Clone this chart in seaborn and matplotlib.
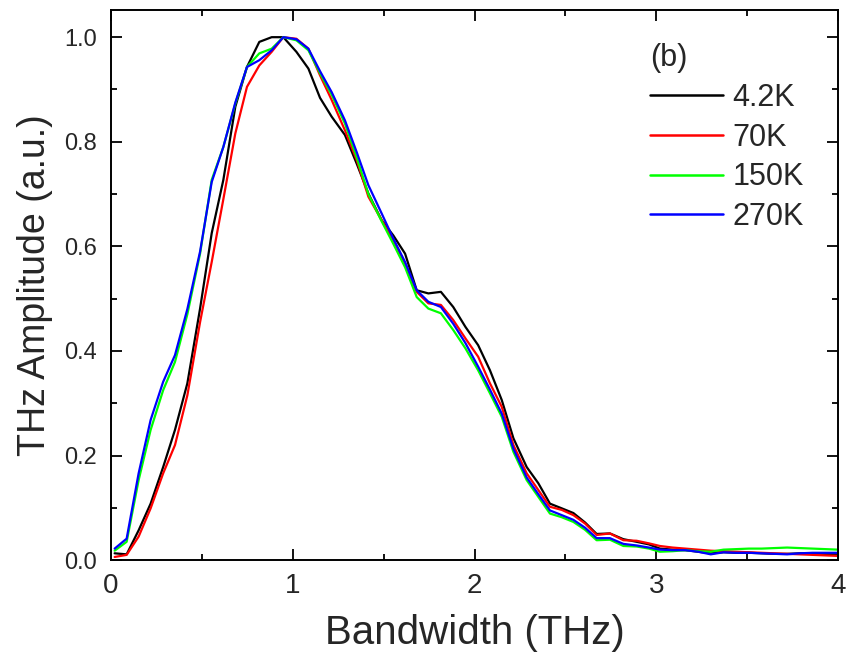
import numpy as np
import pandas as pd
import matplotlib
matplotlib.use("Agg")
import matplotlib.pyplot as plt
import seaborn as sns

freq = [0.02, 0.086, 0.152, 0.218, 0.287, 0.352, 0.42, 0.49, 0.554, 0.618,
        0.684, 0.748, 0.816, 0.884, 0.948, 1.02, 1.086, 1.15, 1.214, 1.287,
        1.352, 1.416, 1.489, 1.553, 1.618, 1.682, 1.746, 1.815, 1.883, 1.95,
        2.02, 2.085, 2.15, 2.214, 2.287, 2.351, 2.415, 2.48, 2.544, 2.608,
        2.672, 2.745, 2.819, 2.892, 2.96, 3.02, 3.09, 3.16, 3.23, 3.3,
        3.37, 3.44, 3.51, 3.58, 3.65, 3.72, 3.79, 3.86, 3.93, 4.0]

amp_4K = [0.013, 0.011, 0.057, 0.108, 0.178, 0.249, 0.338, 0.481, 0.625, 0.727,
          0.867, 0.943, 0.991, 1.0, 1.0, 0.972, 0.940, 0.884, 0.848, 0.813,
          0.758, 0.701, 0.650, 0.621, 0.586, 0.516, 0.510, 0.513, 0.484, 0.446,
          0.411, 0.363, 0.306, 0.233, 0.178, 0.147, 0.108, 0.099, 0.090, 0.072,
          0.050, 0.051, 0.040, 0.035, 0.030, 0.022, 0.020, 0.019, 0.016, 0.013,
          0.015, 0.014, 0.014, 0.013, 0.012, 0.012, 0.013, 0.013, 0.012, 0.012]

amp_70K = [0.006, 0.010, 0.045, 0.099, 0.166, 0.220, 0.315, 0.455, 0.570, 0.690,
           0.816, 0.905, 0.946, 0.972, 1.0, 0.997, 0.978, 0.927, 0.880, 0.822,
           0.765, 0.695, 0.650, 0.612, 0.567, 0.513, 0.491, 0.488, 0.459, 0.424,
           0.389, 0.338, 0.293, 0.220, 0.166, 0.134, 0.102, 0.096, 0.086, 0.070,
           0.048, 0.051, 0.038, 0.037, 0.032, 0.027, 0.024, 0.022, 0.020, 0.018,
           0.017, 0.016, 0.015, 0.014, 0.013, 0.012, 0.011, 0.010, 0.009, 0.008]

amp_150K = [0.018, 0.035, 0.153, 0.249, 0.325, 0.379, 0.470, 0.586, 0.727, 0.790,
            0.873, 0.943, 0.969, 0.978, 1.0, 0.994, 0.975, 0.931, 0.890, 0.835,
            0.770, 0.700, 0.648, 0.605, 0.560, 0.503, 0.481, 0.472, 0.440, 0.405,
            0.363, 0.319, 0.274, 0.207, 0.153, 0.121, 0.089, 0.082, 0.073, 0.058,
            0.038, 0.039, 0.027, 0.026, 0.022, 0.016, 0.017, 0.019, 0.017, 0.016,
            0.020, 0.021, 0.022, 0.022, 0.023, 0.024, 0.023, 0.022, 0.021, 0.020]

amp_270K = [0.022, 0.041, 0.166, 0.268, 0.341, 0.392, 0.480, 0.590, 0.723, 0.790,
            0.875, 0.943, 0.956, 0.975, 1.0, 0.996, 0.978, 0.935, 0.895, 0.841,
            0.780, 0.717, 0.663, 0.615, 0.570, 0.516, 0.494, 0.484, 0.452, 0.415,
            0.370, 0.326, 0.280, 0.213, 0.158, 0.126, 0.095, 0.086, 0.077, 0.062,
            0.042, 0.042, 0.031, 0.028, 0.024, 0.020, 0.019, 0.019, 0.016, 0.011,
            0.015, 0.014, 0.014, 0.013, 0.012, 0.011, 0.013, 0.014, 0.014, 0.014]

labels = ["4.2K", "70K", "150K", "270K"]
colors = ["#000000", "#ff0000", "#00ff00", "#0000ff"]
x_ticks = [0, 1, 2, 3, 4]
y_ticks = [0.0, 0.2, 0.4, 0.6, 0.8, 1.0]

series = [amp_4K, amp_70K, amp_150K, amp_270K]
df = pd.concat([pd.DataFrame({"Bandwidth": freq, "Amplitude": s, "T": lab})
                for s, lab in zip(series, labels)], ignore_index=True)

sns.set_style("ticks")
plt.rcParams["font.family"] = ["Liberation Sans", "DejaVu Sans"]

fig = plt.figure(figsize=(8.5, 6.66), dpi=100)
ax = fig.add_axes([0.1306, 0.159, 0.8553, 0.826])

sns.lineplot(data=df, x="Bandwidth", y="Amplitude", hue="T",
             palette=dict(zip(labels, colors)), hue_order=labels,
             estimator=None, sort=False, linewidth=1.6, ax=ax)

ax.set_xlim(0, 4)
ax.set_ylim(0, 1.052)
ax.set_xticks(x_ticks)
ax.set_xticklabels([str(t) for t in x_ticks])
ax.set_yticks(y_ticks)
ax.set_yticklabels([f"{t:.1f}" for t in y_ticks])
ax.set_xticks([0.5, 1.5, 2.5, 3.5], minor=True)
ax.set_yticks([0.1, 0.3, 0.5, 0.7, 0.9], minor=True)

ax.tick_params(which="both", direction="in", top=True, right=True,
               color="black", width=1.3)
ax.tick_params(which="major", length=8)
ax.tick_params(which="minor", length=4.5)
ax.tick_params(axis="x", which="major", labelsize=20, pad=9)
ax.tick_params(axis="y", which="major", labelsize=17, pad=10)
for sp in ax.spines.values():
    sp.set_visible(True)
    sp.set_linewidth(1.4)
    sp.set_color("black")

ax.set_xlabel("Bandwidth (THz)", fontsize=29, labelpad=11)
ax.set_ylabel("THz Amplitude (a.u.)", fontsize=27, labelpad=8)

handles, labs = ax.get_legend_handles_labels()
leg = ax.legend(handles, labs, title="(b)", loc="upper left",
                bbox_to_anchor=(650 / 850, 1 - 43 / 666),
                bbox_transform=fig.transFigure, frameon=False,
                fontsize=22, title_fontsize=22, handlelength=2.4,
                handletextpad=0.3, labelspacing=0.32, borderpad=0,
                borderaxespad=0, alignment="left")
for line in leg.get_lines():
    line.set_linewidth(1.8)

fig.savefig("out.png", dpi=100)
